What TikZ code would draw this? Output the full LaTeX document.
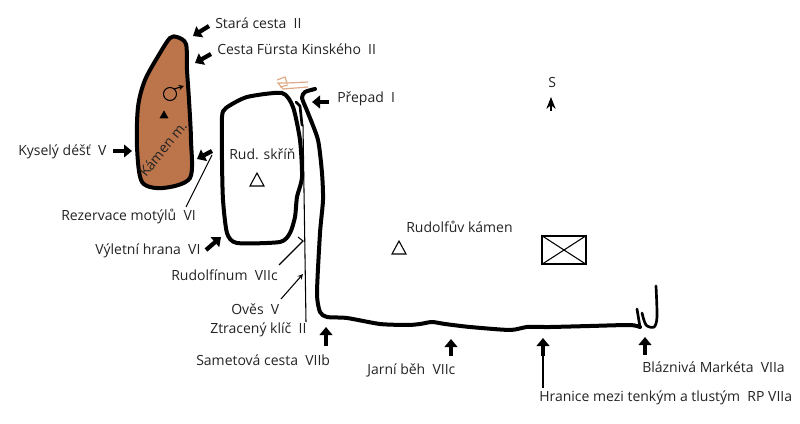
\documentclass[tikz,border=0pt]{standalone}
\usepackage{fontspec}
\setmainfont{Open Sans}
\usetikzlibrary{arrows.meta}
\definecolor{rock}{RGB}{188,117,75}
\definecolor{scribble}{RGB}{222,170,135}
\definecolor{labeltext}{RGB}{35,35,35}

\begin{document}
\begin{tikzpicture}[
x=0.75pt,y=-0.75pt,
>=stealth,
route/.style={font=\fontsize{10.5}{12}\selectfont,text=labeltext,anchor=base west,inner sep=0pt},
blockarrow/.style={draw,line width=3.2pt,-{Triangle[length=6pt,width=9.5pt]}},
thinarrow/.style={draw,line width=0.8pt,->},
wall/.style={draw,line width=3pt,line join=round,line cap=round}
]
\useasboundingbox (0,0) rectangle (800,424);

% rock and wall outlines
\path[wall,fill=rock,line width=3pt] plot[smooth cycle,tension=0.5] coordinates {
(177,37) (186,44) (187,70) (189,100) (191,140) (190,178) (163,188)
(142,182) (137,147) (138,107) (145,80) (160,53) (170,38)};
\node[route,rotate=51] (kamen) at (146,178) {Kámen m.};
\draw[wall] plot[smooth cycle,tension=0.4] coordinates {
(222,117) (226,108) (247,97) (282,93) (293,107) (300,140) (302,177)
(297,197) (295,217) (290,233) (280,242) (237,243) (227,233) (223,200) (222,160)};
\draw[wall] plot[smooth,tension=0.4] coordinates {
(315,89) (305,92) (302,98) (308,113) (318,140) (322,173) (323,200) (320,233)
(317,293) (320,312) (327,317) (347,318) (380,324) (408,325) (420,324) (432,322)
(445,324) (470,327) (510,330) (527,327) (550,327) (590,326) (630,325) (640,327)};
\draw[wall,line width=2pt] (637,309) -- (640,327);
\draw[wall,line width=2pt] plot[smooth,tension=0.5] coordinates {
(642,313) (646,325) (654,327) (657,317) (656,286)};
\draw[wall,line width=2pt] (296,102) -- (300,106) -- (302,125);

% orange scribble
\draw[scribble,line width=0.9pt] (277,80) -- (285,77) -- (287,83) -- (278,83) -- (283,89) -- (308,87);
\draw[scribble,line width=0.9pt] (287,83) -- (308,82) (280,87) -- (288,85);

% labels
\node[route] (stara) at (215,29) {Stará cesta~~II};
\node[route] (cesta) at (217,55) {Cesta Fürsta Kinského~~II};
\node[route] (prepad) at (337,103) {Přepad~~I};
\node[route] (kysely) at (18,156) {Kyselý déšť~~V};
\node[route] (skrin) at (229,160) {Rud. skříň};
\node[route] (rezervace) at (61,220) {Rezervace motýlů~~VI};
\node[route] (vyletni) at (95,254) {Výletní hrana~~VI};
\node[route] (rudolfinum) at (171,281) {Rudolfínum~~VIIc};
\node[route] (oves) at (231,314) {Ověs~~V};
\node[route] (klic) at (210,333) {Ztracený klíč~~II};
\node[route] (sametova) at (196,365) {Sametová cesta~~VIIb};
\node[route] (jarni) at (367,374) {Jarní běh~~VIIc};
\node[route] (hranice) at (539,401) {Hranice mezi tenkým a tlustým~~RP VIIa};
\node[route] (markety) at (642,372) {Bláznivá Markéta~~VIIa};
\node[route] (kamenR) at (406,233) {Rudolfův kámen};
\node[route] (sever) at (548,88) {S};

% marks
\draw[line width=0.8pt] (250,186) -- (257,173) -- (264,186) -- cycle;
\draw[line width=0.8pt] (392,254) -- (399,241) -- (406,254) -- cycle;
\draw[fill=black] (160,118) -- (164,111) -- (168,118) -- cycle;
\draw[line width=0.8pt] (170,94) circle (6.5);
\draw[line width=0.8pt,->] (174,89) -- (184,86);
\node[draw,line width=1pt,minimum width=33pt,minimum height=21pt,inner sep=0pt] (box) at (564,250) {};
\draw[line width=0.8pt] (box.north west) -- (box.south east) (box.north east) -- (box.south west);

\coordinate (severT) at (551,111);
\coordinate (severH) at (551,97);
\draw[line width=0.8pt,-{Stealth[length=9pt,width=7pt]}] (severT) -- (severH);

% thick arrows
\coordinate (a1) at (209,26); \coordinate (b1) at (193,36);
\coordinate (a2) at (211,54); \coordinate (b2) at (195,63);
\coordinate (a3) at (329,102); \coordinate (b3) at (312,102);
\coordinate (a4) at (113,151); \coordinate (b4) at (132,151);
\coordinate (a5) at (212,151); \coordinate (b5) at (197,159);
\coordinate (a6) at (206,250); \coordinate (b6) at (221,237);
\coordinate (a7) at (326,346); \coordinate (b7) at (326,327);
\coordinate (a8) at (451,356); \coordinate (b8) at (451,339);
\coordinate (a9) at (543,356); \coordinate (b9) at (543,338);
\coordinate (a10) at (645,355); \coordinate (b10) at (645,337);
\foreach \i in {1,...,10}
  \path[blockarrow] (a\i) -- (b\i);

% thin leaders
\coordinate (rezT) at (186,207); \coordinate (rezH) at (212,155);
\draw[line width=0.8pt] (rezT) -- (rezH);
\coordinate (rudT) at (279,265); \coordinate (rudH) at (303,241);
\draw[line width=0.8pt] (rudT) -- (rudH) -- (298,237);
\coordinate (ovT) at (281,299); \coordinate (ovH) at (303,274);
\path[thinarrow] (ovT) -- (ovH);
\coordinate (klT) at (306,322); \coordinate (klH) at (303,125);
\draw[line width=0.8pt] (klT) -- (klH);
\coordinate (hrT) at (543,388);
\draw[line width=0.8pt] (hrT) -- (a9);

\end{tikzpicture}
\end{document}
